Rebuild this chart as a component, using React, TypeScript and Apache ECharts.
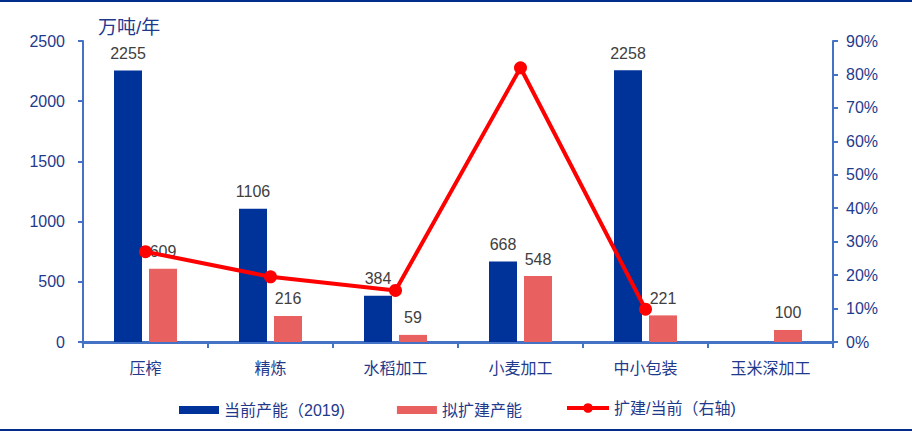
import React, { useEffect, useRef } from "react";
import * as echarts from "echarts";

const categories = ["压榨", "精炼", "水稻加工", "小麦加工", "中小包装", "玉米深加工"];
const currentCapacity: (number | null)[] = [2255, 1106, 384, 668, 2258, null];
const plannedCapacity: number[] = [609, 216, 59, 548, 221, 100];
const expansionRatio: (number | null)[] = [0.27, 0.195, 0.154, 0.82, 0.098, null];

const FONT = "'Liberation Sans', Arial, 'Noto Sans CJK SC', sans-serif";
const AXIS_TEXT = "#1F3A8C";
const AXIS_LINE = "#4472C4";

export default function App() {
  const ref = useRef<HTMLDivElement>(null);

  useEffect(() => {
    if (!ref.current) return;
    const chart = echarts.init(ref.current, null, { renderer: "svg" });
    const legendText = { color: AXIS_TEXT, fontSize: 16, fontFamily: FONT };
    chart.setOption({
      animation: false,
      textStyle: { fontFamily: FONT },
      grid: { left: 83, right: 79, top: 41, bottom: 89, containLabel: false },
      graphic: [
        { type: "rect", shape: { x: 0, y: 0, width: 912, height: 2 }, style: { fill: "#002E8A" } },
        { type: "rect", shape: { x: 0, y: 429, width: 912, height: 2 }, style: { fill: "#002E8A" } },
        {
          type: "text",
          left: 98,
          top: 18,
          style: { text: "万吨/年", fontSize: 19, fill: AXIS_TEXT, fontFamily: FONT },
        },
      ],
      legend: [
        {
          left: 174,
          top: 397,
          itemWidth: 40,
          itemHeight: 8,
          itemGap: 52,
          textStyle: legendText,
          data: [
            { name: "当前产能（2019)", icon: "rect" },
            { name: "拟扩建产能", icon: "rect" },
          ],
        },
        {
          left: 560,
          top: 395,
          itemWidth: 42,
          itemHeight: 12,
          textStyle: legendText,
          lineStyle: { width: 4 },
          data: [{ name: "扩建/当前（右轴)" }],
        },
      ],
      xAxis: {
        type: "category",
        data: categories,
        axisLine: { lineStyle: { color: AXIS_LINE, width: 3 } },
        axisTick: { show: true, length: 6, lineStyle: { color: AXIS_LINE, width: 2 } },
        axisLabel: { color: AXIS_TEXT, fontSize: 16, margin: 18, fontFamily: FONT },
      },
      yAxis: [
        {
          type: "value",
          min: 0,
          max: 2500,
          interval: 500,
          splitLine: { show: false },
          axisLine: { show: true, lineStyle: { color: AXIS_LINE, width: 2 } },
          axisTick: { show: true, length: 5, lineStyle: { color: AXIS_LINE, width: 2 } },
          axisLabel: {
            color: AXIS_TEXT,
            fontSize: 16,
            margin: 18,
            fontFamily: FONT,
            formatter: (v: number) => String(v),
          },
        },
        {
          type: "value",
          min: 0,
          max: 0.9,
          interval: 0.1,
          splitLine: { show: false },
          axisLine: { show: true, lineStyle: { color: AXIS_LINE, width: 2 } },
          axisTick: { show: true, length: 5, lineStyle: { color: AXIS_LINE, width: 2 } },
          axisLabel: {
            color: AXIS_TEXT,
            fontSize: 16,
            margin: 13,
            fontFamily: FONT,
            formatter: (v: number) => `${Math.round(v * 100)}%`,
          },
        },
      ],
      series: [
        {
          name: "当前产能（2019)",
          type: "bar",
          data: currentCapacity,
          barWidth: 28,
          barGap: "25%",
          itemStyle: { color: "#00339A" },
          label: { show: true, position: "top", distance: 9, color: "#404040", fontSize: 16, fontFamily: FONT },
        },
        {
          name: "拟扩建产能",
          type: "bar",
          data: plannedCapacity,
          barWidth: 28,
          barGap: "25%",
          itemStyle: { color: "#E86060" },
          label: { show: true, position: "top", distance: 9, color: "#404040", fontSize: 16, fontFamily: FONT },
        },
        {
          name: "扩建/当前（右轴)",
          type: "line",
          yAxisIndex: 1,
          data: expansionRatio,
          connectNulls: false,
          symbol: "circle",
          symbolSize: 13,
          lineStyle: { color: "#FF0000", width: 4 },
          itemStyle: { color: "#FF0000" },
          z: 5,
        },
      ],
    });
    return () => chart.dispose();
  }, []);

  return <div ref={ref} style={{ width: 912, height: 431, position: "absolute", left: 0, top: 0 }} />;
}
